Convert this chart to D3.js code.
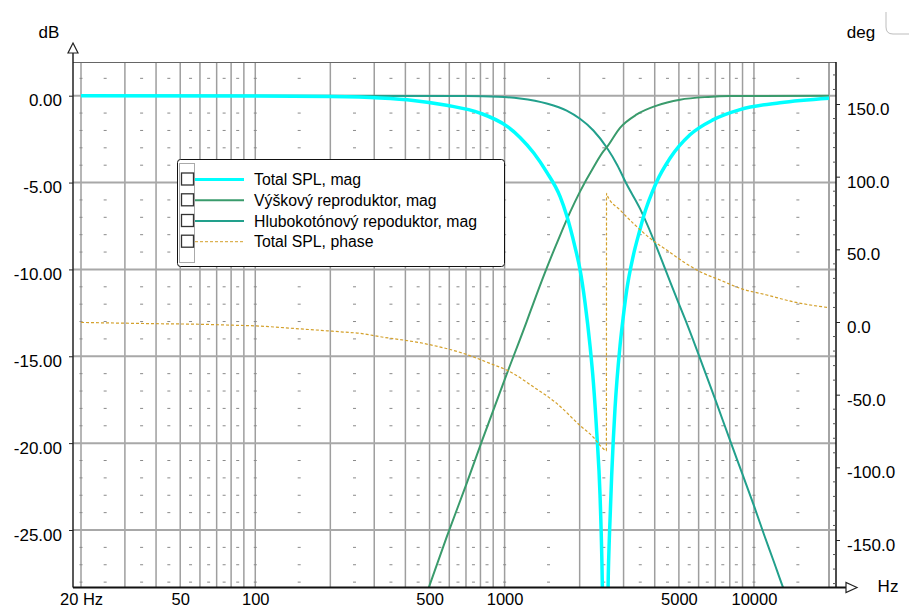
<!DOCTYPE html>
<html><head><meta charset="utf-8">
<script src="https://cdn.jsdelivr.net/npm/d3@7"></script>
<style>
html,body{margin:0;padding:0;background:#fff;}
svg{display:block;font-family:"Liberation Sans",Arial,sans-serif;}
</style></head><body>
<svg id="chart" width="909" height="609"></svg>
<script>
// ---------- data ----------
const totalFreq = [20, 100, 200, 316, 430, 585, 797, 1020, 1153, 1309, 1475, 1668, 1774, 1915, 2006, 2101, 2201, 2270, 2342, 2414, 2453, 2475, 2527, 2606, 2630, 2689, 2772, 2903, 2993, 3088, 3282, 3492, 3600, 4074, 4606, 5541, 6873, 8794, 12722, 20000];
const totalMag  = [0, -0.02, -0.05, -0.13, -0.27, -0.55, -1.0, -1.75, -2.4, -3.3, -4.4, -5.8, -6.9, -8.7, -10.0, -11.9, -14.4, -16.5, -19.4, -23.0, -26.5, -29.5, -45, -27.5, -25.5, -21.8, -18.0, -14.4, -12.7, -11.2, -9.2, -7.7, -7.0, -4.95, -3.6, -2.25, -1.38, -0.8, -0.4, -0.14];

const tweeterFreq = [400, 494, 586, 705, 810, 1003, 1226, 1304, 1450, 1668, 1829, 2006, 2270, 2497, 2568, 2903, 3390, 4074, 5051, 6544, 8000, 20000];
const tweeterMag  = [-32.3, -28.4, -25.4, -22.3, -19.9, -16.3, -13.0, -11.95, -10.2, -8.05, -6.72, -5.52, -4.13, -3.18, -2.97, -1.85, -1.08, -0.57, -0.23, -0.07, -0.02, 0];

const wooferFreq = [20, 700, 944, 1153, 1475, 1774, 2006, 2270, 2568, 2832, 3088, 3492, 3950, 4467, 4973, 5290, 6000, 7000, 8000, 9000, 10000, 11000, 12000, 13000, 14000];
const wooferMag  = [0, -0.02, -0.06, -0.16, -0.45, -0.86, -1.33, -2.0, -2.98, -4.0, -5.1, -6.5, -8.25, -10.2, -11.9, -12.85, -14.9, -17.5, -19.8, -21.8, -23.6, -25.3, -26.8, -28.2, -29.4];

const phaseFreq = [20, 41.5, 61.7, 81.4, 101, 142, 225, 263, 316, 472, 683, 874, 1051, 1304, 1618, 2006, 2270, 2453, 2560, 2563, 2583, 2903, 3282, 3830, 4467, 5206, 6076, 7312, 8794, 11254, 14388, 19577, 20000];
const phaseDeg  = [-0.3, -1.2, -1.6, -2.2, -2.7, -4.4, -6.9, -7.8, -10.1, -14.7, -21.6, -28.5, -34.2, -44.6, -56.0, -71.2, -79.3, -86.2, -88.5, 88.5, 87.0, 77.1, 67.9, 57.6, 49.5, 41.5, 34.6, 28.9, 23.2, 18.6, 13.9, 10.1, 9.9];

const xTickValues = [20, 50, 100, 500, 1000, 5000, 10000];
const xTickLabels = ["20 Hz", "50", "100", "500", "1000", "5000", "10000"];
const dbTicks  = [0, -5, -10, -15, -20, -25];
const degTicks = [150, 100, 50, 0, -50, -100, -150];
const legendLabels = ["Total SPL, mag", "Výškový reproduktor, mag", "Hlubokotónový repoduktor, mag", "Total SPL, phase"];

// ---------- layout ----------
const svg = d3.select("#chart");
const P = {left: 73, right: 836, top: 62, bottom: 587.5};
const x  = d3.scaleLog().domain([20, 20000]).range([81, 829]);
const y  = d3.scaleLinear().domain([-25, 0]).range([530, 95.7]);
const yp = d3.scaleLinear().domain([-150, 150]).range([540, 104]);

const colTotal = "#00ffff", colTweeter = "#3a9b6c", colWoofer = "#22a08c", colPhase = "#d4a12c";

svg.append("defs").append("clipPath").attr("id", "clip")
  .append("rect").attr("x", P.left).attr("y", P.top)
  .attr("width", P.right - P.left).attr("height", P.bottom - P.top);

// ---------- grid ----------
const grid = svg.append("g");
const majorF = [];
[10, 100, 1000, 10000].forEach(d => { for (let k = 1; k <= 9; k++) { const f = k * d; if (f >= 20 && f <= 20000) majorF.push(f); } });
majorF.push(20000);
grid.selectAll("line.vg").data(majorF).join("line")
  .attr("x1", d => x(d)).attr("x2", d => x(d))
  .attr("y1", P.top).attr("y2", P.bottom)
  .attr("stroke", "#9e9e9e").attr("stroke-width", 1.5);
grid.selectAll("line.hg").data(dbTicks).join("line")
  .attr("x1", P.left).attr("x2", P.right)
  .attr("y1", d => y(d)).attr("y2", d => y(d))
  .attr("stroke", "#a8a8a8").attr("stroke-width", 2);

// minor dashes
const dashF = [20];
[10, 100, 1000, 10000].forEach(d => {
  if (d >= 100) dashF.push(d);
  for (let k = 1.5; k < 9; k += 1) { const f = k * d; if (f > 20 && f < 20000) dashF.push(f); }
});
const dashDb = [];
for (let v = 1; v >= -28; v--) if (v % 5 !== 0) dashDb.push(v);
const dashes = [];
dashF.forEach(f => dashDb.forEach(v => dashes.push([f, v])));
grid.selectAll("rect.dash").data(dashes).join("rect")
  .attr("x", d => x(d[0]) - 1.5).attr("y", d => y(d[1]) - 0.5)
  .attr("width", 3).attr("height", 1).attr("fill", "#8a8a8a");

// ---------- curves ----------
const zip = (a, b) => a.map((v, i) => [v, b[i]]);
const lineDb = d3.line().x(d => x(d[0])).y(d => y(d[1])).curve(d3.curveMonotoneX);
const linePh = d3.line().x(d => x(d[0])).y(d => yp(d[1])).curve(d3.curveMonotoneX);
const curves = svg.append("g").attr("clip-path", "url(#clip)");
curves.append("path").datum(zip(wooferFreq, wooferMag)).attr("d", lineDb)
  .attr("fill", "none").attr("stroke", colWoofer).attr("stroke-width", 2);
curves.append("path").datum(zip(tweeterFreq, tweeterMag)).attr("d", lineDb)
  .attr("fill", "none").attr("stroke", colTweeter).attr("stroke-width", 2);
curves.append("path").datum(zip(totalFreq, totalMag)).attr("d", lineDb)
  .attr("fill", "none").attr("stroke", colTotal).attr("stroke-width", 3.5).attr("stroke-linejoin", "round");
curves.append("path").datum(zip(phaseFreq, phaseDeg)).attr("d", linePh)
  .attr("fill", "none").attr("stroke", colPhase).attr("stroke-width", 1.2).attr("stroke-dasharray", "3,2");

// ---------- frame / axes ----------
svg.append("line").attr("x1", P.left).attr("x2", P.right).attr("y1", P.top + 0.5).attr("y2", P.top + 0.5)
  .attr("stroke", "#666").attr("stroke-width", 1);
svg.append("line").attr("x1", P.right).attr("x2", P.right).attr("y1", P.top).attr("y2", P.bottom)
  .attr("stroke", "#111").attr("stroke-width", 1.5);
svg.append("line").attr("x1", P.left).attr("x2", P.left).attr("y1", 53).attr("y2", P.bottom)
  .attr("stroke", "#222").attr("stroke-width", 1.5);
svg.append("line").attr("x1", P.left).attr("x2", 846).attr("y1", P.bottom).attr("y2", P.bottom)
  .attr("stroke", "#111").attr("stroke-width", 2);
// arrows
svg.append("path").attr("d", "M73,43 L78,53 L68,53 Z").attr("fill", "#fff").attr("stroke", "#222").attr("stroke-width", 1.2);
svg.append("path").attr("d", "M857,587.5 L846,582.5 L846,592.5 Z").attr("fill", "#fff").attr("stroke", "#222").attr("stroke-width", 1.2);

// left axis
const axL = d3.axisLeft(y).tickValues(dbTicks).tickFormat(d => d.toFixed(2)).tickSize(4).tickPadding(7);
const gL = svg.append("g").attr("transform", `translate(${P.left},0)`).call(axL);
gL.select(".domain").remove();
gL.selectAll("line").attr("stroke", "#222");
gL.selectAll("text").attr("font-size", 17).attr("fill", "#000").attr("dy", "0.6em")
  .attr("font-family", "'Liberation Sans',Arial,sans-serif");

// right axis
const axR = d3.axisRight(yp).tickValues(degTicks).tickFormat(d => d.toFixed(1)).tickSize(4).tickPadding(7);
const gR = svg.append("g").attr("transform", `translate(${P.right},0)`).call(axR);
gR.select(".domain").remove();
gR.selectAll("line").attr("stroke", "#222");
gR.selectAll("text").attr("font-size", 17).attr("fill", "#000").attr("dy", "0.62em")
  .attr("font-family", "'Liberation Sans',Arial,sans-serif");
const minorDeg = d3.range(-180, 180, 10).filter(d => d % 50 !== 0 && yp(d) > P.top && yp(d) < P.bottom);
svg.selectAll("line.mdeg").data(minorDeg).join("line")
  .attr("x1", P.right - 3).attr("x2", P.right).attr("y1", d => yp(d)).attr("y2", d => yp(d))
  .attr("stroke", "#555").attr("stroke-width", 1);

// bottom axis
const axB = d3.axisBottom(x).tickValues(xTickValues).tickFormat((d, i) => xTickLabels[i]).tickSize(0).tickPadding(0);
const gB = svg.append("g").attr("transform", `translate(0,${P.bottom})`).call(axB);
gB.select(".domain").remove();
gB.selectAll("text").attr("font-size", 16.5).attr("fill", "#000").attr("y", 17.5).attr("dy", 0)
  .attr("font-family", "'Liberation Sans',Arial,sans-serif");

// unit labels
const unit = (t, xx, yy) => svg.append("text").text(t).attr("x", xx).attr("y", yy)
  .attr("text-anchor", "middle").attr("font-size", 17).attr("fill", "#000");
unit("dB", 49, 38);
unit("deg", 861, 38);
unit("Hz", 888, 592);

// corner fragment top right
svg.append("path").attr("d", "M886,12 L886,27 Q886,34 893,34 L909,34")
  .attr("fill", "none").attr("stroke", "#bdbdbd").attr("stroke-width", 1);

// ---------- legend ----------
const lg = svg.append("g");
lg.append("rect").attr("x", 177.5).attr("y", 159.5).attr("width", 327).attr("height", 107).attr("rx", 3)
  .attr("fill", "#fff").attr("stroke", "#111").attr("stroke-width", 1);
lg.append("rect").attr("x", 179.5).attr("y", 163.5).attr("width", 15).attr("height", 99)
  .attr("fill", "none").attr("stroke", "#555").attr("stroke-width", 1).attr("stroke-dasharray", "1,1");
const legStyles = [
  {c: colTotal, w: 3, dash: null},
  {c: colTweeter, w: 2, dash: null},
  {c: colWoofer, w: 2, dash: null},
  {c: colPhase, w: 1, dash: "3,2"}
];
const legY = [179.5, 200.3, 221, 241.7];
const items = lg.selectAll("g.item").data(legendLabels).join("g")
  .attr("transform", (d, i) => `translate(0,${legY[i]})`);
items.append("line").attr("x1", 195).attr("x2", 244).attr("y1", 0).attr("y2", 0)
  .attr("stroke", (d, i) => legStyles[i].c).attr("stroke-width", (d, i) => legStyles[i].w)
  .attr("stroke-dasharray", (d, i) => legStyles[i].dash);
items.append("rect").attr("x", 181.5).attr("y", -6.5).attr("width", 12).attr("height", 12)
  .attr("fill", "#fff").attr("stroke", "#333").attr("stroke-width", 1.3);
items.append("text").text(d => d).attr("x", 254).attr("y", 5.7)
  .attr("font-size", 15.8).attr("fill", "#000");
</script>
</body></html>
